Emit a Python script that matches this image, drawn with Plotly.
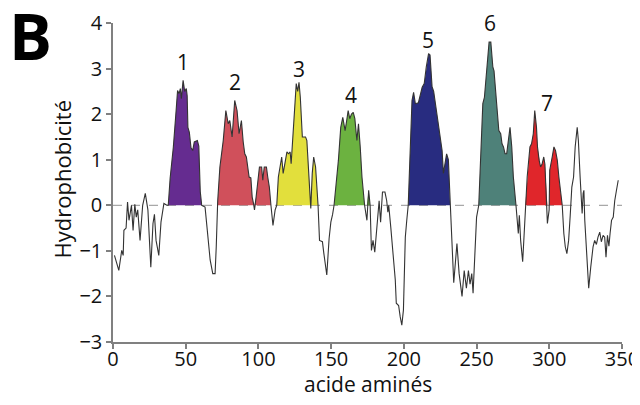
import plotly.graph_objects as go

# residue position (x) and hydrophobicity (y)
residue = [1, 2, 4, 6, 7, 7.5, 9, 10, 11, 12.7, 13.8, 15, 16, 17, 18.6, 20.4, 22.2, 24, 26, 27.5, 28.5, 29.6, 31.5, 33, 35, 37,
           38, 39.3, 41.5, 43.4, 44.4, 45.5, 46.3, 47, 48.2, 49.3, 50.4, 51.0, 51.5, 52.5, 53.6, 54.8, 55.9, 58, 59, 60, 61,
           63.3, 64.5, 65.6, 66.8, 68.6, 70.2, 71.0, 71.5,
           72, 73.5, 75.8, 77.6, 79.2, 80.3, 81.9, 83.7, 85.3, 86.7, 88.3, 89.5, 90.6, 91.7, 93.6, 94.8, 95.7, 96.6, 97.3, 98.4,
           99.6, 100.7, 102.2, 103, 104, 105.5, 106.4, 107.5, 108.6,
           110, 111.5,
           112.6, 113.7, 115, 116, 117, 118.3, 119.6, 120.7, 121.8, 122.5, 123.2, 124.5, 126, 127, 127.9, 128.8, 130.2, 131.8,
           132.4, 133.3, 134.2, 135.1, 136, 137, 138, 139.3, 140.3, 141,
           142, 144, 145, 147, 148.6, 149.8, 151, 152,
           155, 156.6, 158, 159.6, 160.7, 161.7, 162.8, 164, 165.2, 166.3, 167.7, 168.8, 170, 171.2, 173, 174.6, 175.8, 176.8,
           177.7, 178.8, 180, 181.6, 183, 184, 185.3, 187, 188.2, 189, 189.6, 191, 193, 194.1, 194.8, 196.4, 197.5, 198.6,
           199.7, 200.4, 201, 202, 203,
           205.6, 206.7, 207.9, 210, 212.6, 214, 215.4, 217, 218, 219.4, 220.5, 221.7, 222.8, 224, 225, 226.3, 227.2, 228.3,
           229.4, 230.6, 231.8,
           233, 234.3, 236.5, 238, 240, 241.5, 243, 244.4, 245.5, 246.7, 247.6, 249, 250, 251.5,
           254.3, 255.4, 257, 258.6, 259.8, 261.2, 262, 262.8, 264.3, 265.3, 266.6, 267.5, 268.5, 269.6, 270.7, 271.9, 273,
           274.2, 275.3, 277.1,
           278.7, 279.4, 280.3, 281.7, 282.6, 283.5,
           284.8, 286.7, 287.8, 289, 290, 291.2, 291.9, 293, 294, 295, 296.2, 297, 298, 298.7, 299.9, 300.3, 302, 303.2, 304.3,
           305.5, 306.6, 307.7, 308.9,
           310, 311, 312.1, 313.3, 314.4, 315.5, 316.7, 317.8, 319.2, 320, 321.2, 322.4, 322.6, 323.3, 323.8, 324.4, 325.6,
           327.1, 328.5, 330.1, 331.2, 332.4, 333.5, 334.7, 335.8, 337, 338.1, 339, 340, 341, 341.8, 342.8, 344, 345, 346.2, 347.4]

hydro = [-1.1, -1.2, -1.43, -0.99, -1.1, -0.55, -0.5, 0.07, -0.33, 0.0, -0.55, 0.02, -0.26, -0.1, -0.77, 0.0, 0.26, -0.1, -1.36, -0.4, -0.2, -0.77, -1.1, -0.37, 0.04, 0.0,
         0.0, 0.6, 1.28, 2.08, 2.52, 2.45, 2.56, 2.34, 2.74, 2.5, 2.56, 2.4, 1.71, 1.6, 1.27, 1.2, 1.39, 1.42, 1.3, 0.3, 0.0,
         -0.04, -0.48, -0.7, -1.2, -1.5, -1.5, -0.91, -0.04,
         0.1, 0.84, 1.42, 2.08, 1.79, 1.86, 1.5, 2.3, 2.08, 1.57, 1.86, 1.4, 1.13, 1.06, 0.62, 0.6, 0.18, 0.04, -0.1, 0.18,
         0.55, 0.84, 0.84, 0.55, 0.84, 0.84, 0.62, 0.4, 0.0,
         -0.44, -0.1,
         0.0, 0.62, 0.84, 1.06, 0.7, 0.99, 1.17, 1.13, 1.17, 0.91, 1.28, 1.93, 2.67, 2.5, 2.7, 2.37, 1.5, 1.5,
         1.5, 1.42, 0.84, 0.3, -0.07, 0.7, 1.06, 0.84, 0.4, 0.0,
         -0.77, -0.8, -1.06, -1.53, -0.73, -0.37, -0.2, 0.0,
         0.99, 1.71, 1.93, 1.64, 1.86, 2.08, 1.9, 2.0, 2.04, 1.9, 1.42, 1.79, 1.28, 0.62, 0.0, -0.33, 0.33, 0.0,
         -0.99, -0.77, -1.03, -0.33, 0.1, -0.37, 0.29, 0.29, 0.1, -0.15, 0.0, -0.48, -1.14, -1.64, -2.15, -2.2, -2.45, -2.63,
         -2.3, -1.58, -0.7, -0.33, 0.0,
         2.3, 2.48, 2.23, 2.25, 2.59, 2.67, 3.03, 3.33, 3.3, 2.6, 2.5, 2.23, 2.0, 1.71, 1.42, 1.2, 0.7, 0.9,
         1.13, 1.0, 0.02,
         -0.62, -1.7, -0.84, -1.5, -2.0, -1.43, -1.82, -1.43, -1.73, -1.5, -1.93, -0.91, -0.26, 0.0,
         2.23, 2.37, 3.03, 3.58, 3.58, 3.03, 2.95, 2.67, 2.08, 1.64, 1.57, 1.35, 1.28, 1.13, 1.13, 1.5, 1.71,
         1.28, 0.62, 0.0,
         -0.62, -0.22, -0.77, -1.24, -0.62, 0.0,
         0.62, 1.28, 1.35, 1.57, 2.08, 1.71, 1.28, 0.99, 0.84, 0.9, 1.06, 0.9, 0.3, -0.4, -0.1, 0.77, 1.06, 1.28, 1.2,
         0.99, 0.62, 0.33, 0.0,
         -0.62, -0.91, -1.06, -0.77, -0.22, 0.4, 0.62, 1.28, 1.71, 1.42, 0.62, 0.02, -0.18, 0.26, 0.33, -0.33, -0.91,
         -1.82, -1.36, -0.91, -0.77, -0.86, -0.7, -0.59, -0.8, -0.66, -0.7, -1.14, -0.66, -0.9, -0.62, -0.33, -0.26, 0.1, 0.33, 0.55]

# transmembrane segments: start, end, colour, label
seg_start = [38, 71.5, 112.6, 152, 203, 251.5, 283.5]
seg_end = [61, 108.6, 141, 176.8, 231.8, 277.1, 308.9]
seg_color = ["#652c90", "#d0505b", "#e2df3c", "#6cb240", "#282c80", "#4e8179", "#e0262b"]
seg_label = ["1", "2", "3", "4", "5", "6", "7"]
label_x = [48.1, 83.9, 127.9, 163.7, 216.6, 259.3, 298.5]
label_y = [3.14, 2.70, 3.0, 2.41, 3.62, 3.99, 2.24]

x_ticks = [0, 50, 100, 150, 200, 250, 300, 350]
y_ticks = [-3, -2, -1, 0, 1, 2, 3, 4]

FONT = "Open Sans"
fig = go.Figure()

for s, e, c in zip(seg_start, seg_end, seg_color):
    xs = [r for r in residue if s <= r <= e]
    ys = [max(h, 0) for r, h in zip(residue, hydro) if s <= r <= e]
    fig.add_trace(go.Scatter(x=xs, y=ys, mode="lines", fill="tozeroy", fillcolor=c,
                             line=dict(width=0, color=c), hoverinfo="skip", showlegend=False))

fig.add_trace(go.Scatter(x=residue, y=hydro, mode="lines",
                         line=dict(color="#333333", width=1.1), showlegend=False))

fig.add_shape(type="line", xref="paper", x0=0, x1=1, yref="y", y0=0, y1=0,
              line=dict(color="#a8a8a8", width=1.2, dash="dash"), layer="below")

for t, lx, ly in zip(seg_label, label_x, label_y):
    fig.add_annotation(x=lx, y=ly, text=t, showarrow=False,
                       font=dict(family=FONT, size=21, color="#111"))

# panel letter and axis titles (paper coordinates)
fig.add_annotation(xref="paper", yref="paper", x=-0.163, y=0.962, text="<b>B</b>",
                   showarrow=False, xanchor="center", yanchor="middle",
                   font=dict(family=FONT, size=64, color="#000", weight=800))
fig.add_annotation(xref="paper", yref="paper", x=0.501, y=-0.133, text="acide aminés",
                   showarrow=False, xanchor="center", yanchor="middle",
                   font=dict(family=FONT, size=21, color="#111"))
fig.add_annotation(xref="paper", yref="paper", x=-0.1, y=0.51, text="Hydrophobicité",
                   showarrow=False, xanchor="center", yanchor="middle", textangle=-90,
                   font=dict(family=FONT, size=22, color="#111"))

axis_common = dict(showgrid=False, zeroline=False, showline=True, linecolor="#808080", linewidth=1.5,
                   ticks="outside", ticklen=5, tickwidth=1.5, tickcolor="#808080", automargin=False,
                   tickfont=dict(family=FONT, size=20, color="#111"))

fig.update_xaxes(range=[0, 350], tickvals=x_ticks, ticklabelstandoff=-7, **axis_common)
fig.update_yaxes(range=[-3, 4], tickvals=y_ticks, **axis_common)

# the page body adds an 8px offset, so the figure is shrunk by that offset
fig.update_layout(width=632, height=397, margin=dict(l=105, r=18, t=15, b=63, autoexpand=False),
                  plot_bgcolor="white", paper_bgcolor="white", showlegend=False)

fig.write_html("out.html")
